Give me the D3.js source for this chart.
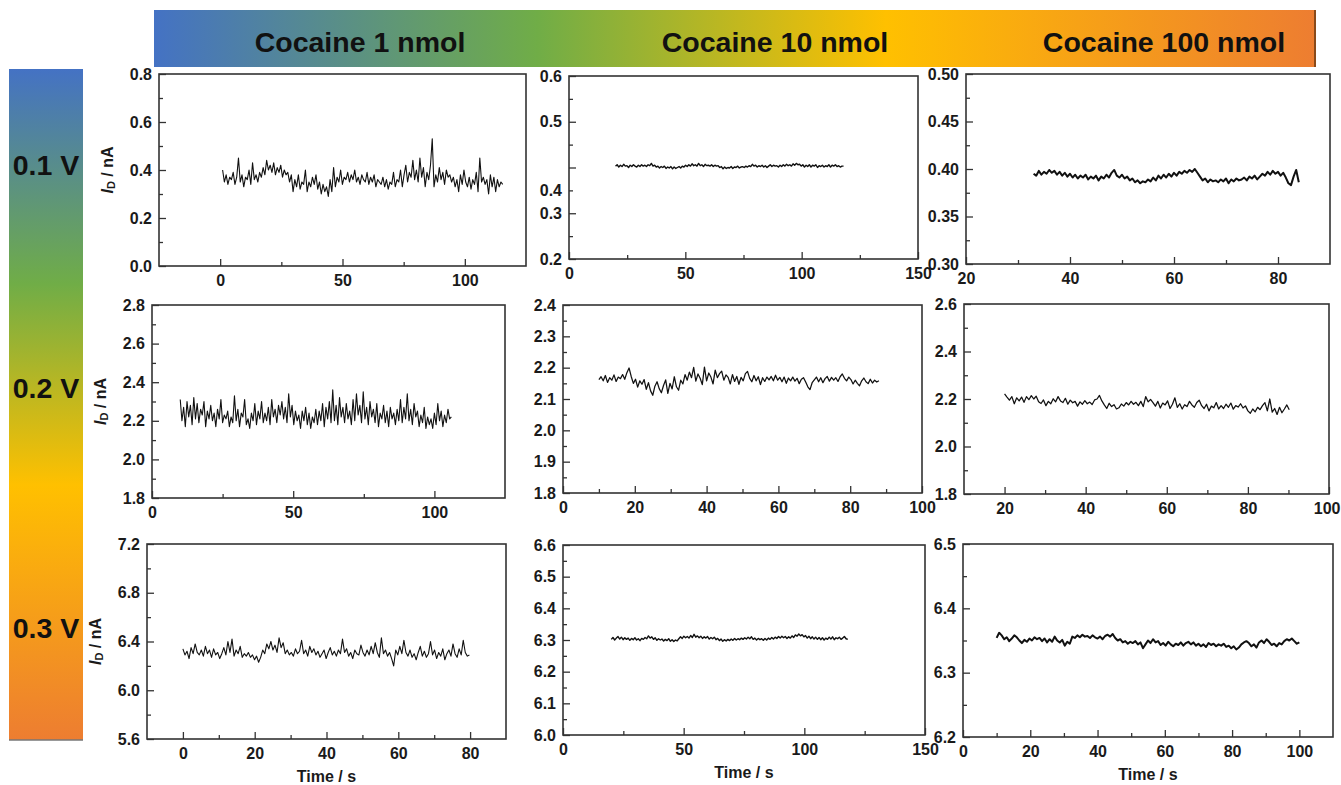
<!DOCTYPE html>
<html>
<head>
<meta charset="utf-8">
<script src="https://cdn.jsdelivr.net/npm/d3@7"></script>
<style>
  html, body { margin: 0; padding: 0; background: #fff; }
  svg { display: block; }
</style>
</head>
<body>
<script>
// ---------------- DATA ----------------
const columnTitles = ["Cocaine 1 nmol", "Cocaine 10 nmol", "Cocaine 100 nmol"];
const rowLabels = ["0.1 V", "0.2 V", "0.3 V"];

// time of first sample and sampling step (s) for each panel
const seriesStart = [1, 20, 33, 10, 10, 20, 0, 20, 10];
const seriesStep  = [0.72, 0.7, 0.5, 0.6, 0.6, 0.6, 0.57, 0.7, 0.75];

// current I_D (nA)
const p1Values = [
0.40,0.35,0.38,0.34,0.37,0.36,0.39,0.34,0.37,0.45,
0.35,0.38,0.33,0.37,0.36,0.40,0.34,0.43,0.36,0.38,
0.35,0.39,0.37,0.41,0.38,0.44,0.40,0.42,0.39,0.43,
0.38,0.41,0.39,0.42,0.37,0.40,0.38,0.39,0.35,0.38,
0.31,0.36,0.33,0.38,0.32,0.35,0.34,0.40,0.31,0.35,
0.33,0.37,0.34,0.38,0.32,0.35,0.30,0.34,0.31,0.33,
0.29,0.36,0.31,0.41,0.33,0.37,0.35,0.40,0.34,0.37,
0.36,0.39,0.35,0.38,0.36,0.40,0.35,0.37,0.34,0.38,
0.36,0.35,0.39,0.34,0.37,0.35,0.38,0.33,0.36,0.35,
0.34,0.37,0.33,0.36,0.32,0.35,0.34,0.39,0.33,0.36,
0.35,0.40,0.33,0.38,0.42,0.35,0.39,0.37,0.44,0.36,
0.40,0.35,0.45,0.37,0.41,0.33,0.39,0.36,0.42,0.53,
0.33,0.38,0.35,0.41,0.36,0.39,0.34,0.40,0.37,0.38,
0.35,0.37,0.33,0.36,0.31,0.38,0.34,0.40,0.35,0.33,
0.37,0.32,0.36,0.34,0.39,0.31,0.45,0.35,0.37,0.34,
0.36,0.30,0.38,0.33,0.37,0.31,0.36,0.33,0.35,0.34];

const p2Values = [
0.403,0.406,0.401,0.405,0.402,0.407,0.403,0.404,0.400,0.405,
0.402,0.406,0.403,0.401,0.405,0.402,0.406,0.403,0.405,0.402,
0.406,0.404,0.409,0.403,0.405,0.401,0.403,0.399,0.402,0.400,
0.403,0.398,0.401,0.399,0.402,0.397,0.401,0.398,0.400,0.402,
0.399,0.403,0.401,0.405,0.402,0.406,0.403,0.408,0.404,0.406,
0.403,0.409,0.404,0.406,0.402,0.407,0.404,0.405,0.403,0.406,
0.402,0.405,0.403,0.404,0.400,0.402,0.397,0.401,0.398,0.400,
0.399,0.402,0.398,0.401,0.400,0.403,0.399,0.401,0.402,0.400,
0.403,0.401,0.404,0.402,0.407,0.403,0.405,0.401,0.404,0.402,
0.405,0.401,0.404,0.400,0.403,0.406,0.402,0.405,0.403,0.404,
0.401,0.405,0.402,0.406,0.403,0.407,0.404,0.406,0.403,0.408,
0.405,0.409,0.406,0.407,0.403,0.406,0.401,0.405,0.402,0.406,
0.401,0.405,0.403,0.406,0.400,0.404,0.402,0.405,0.401,0.404,
0.402,0.406,0.401,0.405,0.403,0.406,0.402,0.404,0.401,0.403,
0.403];

const p3Values = [
0.395,0.393,0.398,0.394,0.397,0.395,0.399,0.396,0.398,0.394,
0.397,0.393,0.396,0.392,0.395,0.391,0.394,0.390,0.393,0.391,
0.394,0.389,0.392,0.390,0.393,0.388,0.392,0.390,0.394,0.391,
0.396,0.399,0.393,0.391,0.394,0.390,0.392,0.388,0.390,0.386,
0.388,0.385,0.387,0.386,0.389,0.387,0.391,0.388,0.393,0.390,
0.394,0.391,0.395,0.392,0.396,0.393,0.397,0.395,0.398,0.396,
0.399,0.397,0.400,0.396,0.392,0.388,0.390,0.386,0.389,0.387,
0.388,0.386,0.389,0.387,0.390,0.385,0.389,0.387,0.390,0.388,
0.389,0.391,0.388,0.392,0.390,0.393,0.389,0.392,0.395,0.393,
0.397,0.394,0.398,0.395,0.397,0.393,0.396,0.391,0.385,0.383,
0.392,0.399,0.386];

const p4Values = [
2.31,2.20,2.27,2.17,2.30,2.22,2.28,2.18,2.32,2.21,
2.29,2.19,2.26,2.23,2.30,2.17,2.25,2.21,2.28,2.20,
2.24,2.17,2.26,2.21,2.31,2.19,2.23,2.21,2.25,2.17,
2.22,2.19,2.33,2.20,2.26,2.17,2.24,2.22,2.31,2.18,
2.21,2.16,2.24,2.20,2.29,2.18,2.25,2.21,2.30,2.19,
2.24,2.20,2.27,2.18,2.31,2.22,2.26,2.19,2.28,2.23,
2.30,2.21,2.27,2.19,2.34,2.22,2.28,2.18,2.25,2.20,
2.23,2.16,2.25,2.20,2.27,2.18,2.24,2.16,2.22,2.19,
2.26,2.18,2.25,2.20,2.29,2.17,2.27,2.21,2.30,2.19,
2.36,2.20,2.28,2.18,2.32,2.22,2.27,2.19,2.29,2.21,
2.25,2.18,2.31,2.20,2.34,2.23,2.28,2.19,2.35,2.21,
2.27,2.18,2.30,2.22,2.26,2.19,2.29,2.17,2.24,2.21,
2.28,2.19,2.25,2.17,2.27,2.21,2.24,2.18,2.26,2.20,
2.31,2.19,2.27,2.21,2.34,2.20,2.26,2.18,2.29,2.22,
2.25,2.17,2.23,2.19,2.27,2.16,2.22,2.18,2.21,2.16,
2.24,2.18,2.29,2.20,2.25,2.17,2.23,2.19,2.26,2.21,
2.22];

const p5Values = [
2.162,2.171,2.158,2.175,2.153,2.168,2.160,2.177,2.156,2.170,
2.165,2.178,2.163,2.184,2.199,2.172,2.150,2.163,2.138,2.158,
2.147,2.162,2.131,2.152,2.126,2.112,2.141,2.155,2.133,2.120,
2.143,2.161,2.118,2.150,2.132,2.171,2.139,2.128,2.160,2.148,
2.178,2.160,2.186,2.168,2.201,2.157,2.180,2.166,2.146,2.202,
2.158,2.183,2.170,2.148,2.192,2.168,2.181,2.189,2.160,2.177,
2.169,2.148,2.178,2.156,2.172,2.147,2.169,2.158,2.181,2.188,
2.166,2.155,2.175,2.158,2.171,2.146,2.168,2.156,2.170,2.161,
2.172,2.158,2.176,2.160,2.169,2.155,2.170,2.150,2.167,2.158,
2.170,2.157,2.166,2.149,2.163,2.168,2.154,2.139,2.130,2.152,
2.161,2.170,2.155,2.168,2.152,2.165,2.172,2.157,2.169,2.160,
2.168,2.156,2.171,2.180,2.166,2.158,2.170,2.162,2.148,2.160,
2.150,2.142,2.158,2.167,2.155,2.149,2.163,2.151,2.160,2.154,
2.158];

const p6Values = [
2.222,2.208,2.195,2.210,2.180,2.205,2.192,2.208,2.186,2.210,
2.197,2.214,2.200,2.212,2.188,2.181,2.196,2.172,2.190,2.180,
2.201,2.188,2.210,2.192,2.185,2.203,2.178,2.195,2.184,2.190,
2.170,2.188,2.178,2.193,2.180,2.187,2.177,2.196,2.200,2.215,
2.192,2.175,2.160,2.182,2.168,2.176,2.158,2.163,2.179,2.170,
2.185,2.175,2.190,2.178,2.186,2.172,2.190,2.168,2.210,2.188,
2.198,2.185,2.170,2.190,2.162,2.183,2.175,2.192,2.160,2.178,
2.205,2.165,2.180,2.158,2.176,2.168,2.190,2.175,2.165,2.185,
2.195,2.172,2.160,2.178,2.150,2.170,2.163,2.185,2.158,2.172,
2.160,2.178,2.165,2.183,2.157,2.172,2.166,2.180,2.162,2.171,
2.150,2.140,2.158,2.146,2.165,2.155,2.172,2.185,2.150,2.200,
2.145,2.160,2.135,2.165,2.142,2.158,2.175,2.155];

const p7Values = [
6.34,6.29,6.32,6.26,6.35,6.30,6.38,6.31,6.29,6.33,
6.28,6.36,6.30,6.33,6.27,6.34,6.29,6.31,6.26,6.30,
6.35,6.29,6.40,6.31,6.42,6.28,6.33,6.30,6.36,6.27,
6.30,6.28,6.31,6.27,6.29,6.25,6.28,6.23,6.27,6.33,
6.30,6.38,6.34,6.40,6.33,6.37,6.31,6.43,6.35,6.39,
6.30,6.33,6.29,6.31,6.28,6.34,6.30,6.32,6.41,6.30,
6.33,6.28,6.36,6.31,6.34,6.29,6.32,6.27,6.30,6.33,
6.26,6.31,6.35,6.29,6.32,6.28,6.33,6.30,6.42,6.31,
6.34,6.28,6.31,6.26,6.33,6.30,6.29,6.37,6.31,6.28,
6.33,6.29,6.36,6.30,6.39,6.31,6.27,6.43,6.30,6.33,
6.28,6.31,6.26,6.20,6.33,6.29,6.36,6.30,6.41,6.31,
6.28,6.33,6.27,6.30,6.25,6.31,6.36,6.28,6.32,6.27,
6.30,6.40,6.29,6.33,6.26,6.31,6.28,6.34,6.25,6.30,
6.33,6.28,6.38,6.30,6.27,6.34,6.29,6.41,6.31,6.28,
6.29];

const p8Values = [
6.302,6.308,6.300,6.306,6.311,6.303,6.309,6.301,6.307,6.302,
6.306,6.299,6.305,6.301,6.307,6.300,6.304,6.298,6.305,6.302,
6.308,6.304,6.313,6.306,6.310,6.302,6.307,6.299,6.304,6.300,
6.303,6.297,6.302,6.298,6.304,6.296,6.301,6.295,6.300,6.297,
6.304,6.310,6.305,6.312,6.307,6.311,6.306,6.314,6.308,6.318,
6.309,6.313,6.307,6.312,6.305,6.310,6.306,6.311,6.303,6.308,
6.304,6.309,6.301,6.305,6.298,6.303,6.296,6.301,6.297,6.302,
6.298,6.303,6.299,6.305,6.300,6.304,6.301,6.306,6.302,6.307,
6.303,6.309,6.304,6.310,6.302,6.306,6.300,6.305,6.301,6.304,
6.299,6.305,6.300,6.306,6.302,6.308,6.303,6.309,6.305,6.311,
6.306,6.312,6.307,6.311,6.305,6.310,6.306,6.313,6.308,6.316,
6.312,6.319,6.313,6.317,6.310,6.314,6.306,6.312,6.304,6.310,
6.303,6.309,6.302,6.308,6.301,6.307,6.300,6.306,6.302,6.309,
6.303,6.310,6.301,6.307,6.304,6.309,6.302,6.306,6.311,6.304,
6.302];

const p9Values = [
6.354,6.362,6.358,6.352,6.355,6.349,6.353,6.358,6.355,6.350,
6.346,6.351,6.348,6.353,6.350,6.355,6.352,6.354,6.349,6.353,
6.347,6.352,6.348,6.356,6.350,6.347,6.351,6.342,6.348,6.345,
6.356,6.354,6.358,6.355,6.359,6.356,6.357,6.354,6.358,6.355,
6.353,6.356,6.352,6.357,6.359,6.356,6.360,6.354,6.350,6.352,
6.347,6.349,6.345,6.348,6.346,6.349,6.344,6.347,6.338,6.344,
6.350,6.346,6.352,6.347,6.349,6.343,6.346,6.342,6.348,6.344,
6.341,6.345,6.343,6.347,6.342,6.346,6.348,6.344,6.347,6.342,
6.345,6.341,6.344,6.340,6.346,6.343,6.345,6.341,6.344,6.342,
6.345,6.340,6.342,6.338,6.341,6.336,6.339,6.344,6.347,6.349,
6.346,6.341,6.344,6.339,6.347,6.350,6.346,6.352,6.348,6.343,
6.345,6.341,6.346,6.344,6.349,6.352,6.350,6.353,6.349,6.345,
6.347];

const seriesValues = [p1Values, p2Values, p3Values, p4Values, p5Values, p6Values, p7Values, p8Values, p9Values];

// axis ranges
const xDomains = [[-25,125],[0,150],[20,90],[0,125],[0,100],[10,100],[-10,90],[0,150],[0,110]];
const yDomains = [[0,0.8],[0.2,0.6],[0.3,0.5],[1.8,2.8],[1.8,2.4],[1.8,2.6],[5.6,7.2],[6.0,6.6],[6.2,6.5]];

// x ticks
const xMajorTicks = [[0,50,100],[0,50,100,150],[20,40,60,80],[0,50,100],[0,20,40,60,80,100],[20,40,60,80,100],[0,20,40,60,80],[0,50,100,150],[0,20,40,60,80,100]];
const xMinorTicks = [[25,75],[25,75,125],[30,50,70],[25,75],[10,30,50,70,90],[30,50,70,90],[10,30,50,70],[25,75,125],[10,30,50,70,90]];
const xTickLabels = [["0","50","100"],["0","50","100","150"],["20","40","60","80"],["0","50","100"],["0","20","40","60","80","100"],["20","40","60","80","100"],["0","20","40","60","80"],["0","50","100","150"],["0","20","40","60","80","100"]];

// y ticks
const yMajorTicks = [[0,0.2,0.4,0.6,0.8],[0.2,0.3,0.4,0.5,0.6],[0.30,0.35,0.40,0.45,0.50],[1.8,2.0,2.2,2.4,2.6,2.8],[1.8,1.9,2.0,2.1,2.2,2.3,2.4],[1.8,2.0,2.2,2.4,2.6],[5.6,6.0,6.4,6.8,7.2],[6.0,6.1,6.2,6.3,6.4,6.5,6.6],[6.2,6.3,6.4,6.5]];
const yMinorTicks = [[0.1,0.3,0.5,0.7],[0.25,0.35,0.45,0.55],[0.325,0.375,0.425,0.475],[1.9,2.1,2.3,2.5,2.7],[1.85,1.95,2.05,2.15,2.25,2.35],[1.9,2.1,2.3,2.5],[5.8,6.2,6.6,7.0],[6.05,6.15,6.25,6.35,6.45,6.55],[6.25,6.35,6.45]];
const yLabelAt = [[0,0.2,0.4,0.6,0.8],[0.2,0.3,0.35,0.5,0.6],[0.30,0.35,0.40,0.45,0.50],[1.8,2.0,2.2,2.4,2.6,2.8],[1.8,1.9,2.0,2.1,2.2,2.3,2.4],[1.8,2.0,2.2,2.4,2.6],[5.6,6.0,6.4,6.8,7.2],[6.0,6.1,6.2,6.3,6.4,6.5,6.6],[6.2,6.3,6.4,6.5]];
const yTickLabels = [["0.0","0.2","0.4","0.6","0.8"],["0.2","0.3","0.4","0.5","0.6"],["0.30","0.35","0.40","0.45","0.50"],["1.8","2.0","2.2","2.4","2.6","2.8"],["1.8","1.9","2.0","2.1","2.2","2.3","2.4"],["1.8","2.0","2.2","2.4","2.6"],["5.6","6.0","6.4","6.8","7.2"],["6.0","6.1","6.2","6.3","6.4","6.5","6.6"],["6.2","6.3","6.4","6.5"]];

// ---------------- LAYOUT ----------------
const W = 1341, H = 785;
const FONT = "'Liberation Sans', Arial, Helvetica, sans-serif";
const frames = [
  {x0:159, x1:526, y0:74,  y1:266},
  {x0:569, x1:918, y0:76,  y1:259},
  {x0:966, x1:1330,y0:74,  y1:264},
  {x0:152, x1:505, y0:305, y1:498},
  {x0:563, x1:922, y0:305, y1:493},
  {x0:964, x1:1329,y0:304, y1:494},
  {x0:147, x1:506, y0:544, y1:739},
  {x0:563, x1:925, y0:545, y1:735},
  {x0:963, x1:1333,y0:544, y1:737}
];
const lineWidths = [1.1, 1.4, 2.0, 1.1, 1.25, 1.25, 1.1, 1.4, 2.0];

const svg = d3.select("body").append("svg")
  .attr("width", W).attr("height", H)
  .attr("viewBox", `0 0 ${W} ${H}`);
svg.append("rect").attr("width", W).attr("height", H).attr("fill", "#fff");

const defs = svg.append("defs");
const gTop = defs.append("linearGradient").attr("id","gTop").attr("x1","0").attr("x2","1").attr("y1","0").attr("y2","0");
[["#4472C4",0],["#70AD47",0.33],["#FFC000",0.63],["#ED7D31",1]].forEach(s => gTop.append("stop").attr("offset", s[1]).attr("stop-color", s[0]));
const gLeft = defs.append("linearGradient").attr("id","gLeft").attr("x1","0").attr("x2","0").attr("y1","0").attr("y2","1");
[["#4472C4",0],["#70AD47",0.32],["#FFC000",0.62],["#ED7D31",1]].forEach(s => gLeft.append("stop").attr("offset", s[1]).attr("stop-color", s[0]));

// top banner
svg.append("rect").attr("x",154).attr("y",10).attr("width",1162).attr("height",57).attr("fill","url(#gTop)");
svg.append("line").attr("x1",1315).attr("x2",1315).attr("y1",10).attr("y2",67).attr("stroke","#8a4a1a").attr("stroke-width",2);
const titleX = [360, 775, 1164];
svg.selectAll("text.coltitle").data(columnTitles).join("text")
  .attr("class","coltitle")
  .attr("x",(d,i)=>titleX[i]).attr("y",42)
  .attr("text-anchor","middle").attr("dominant-baseline","central")
  .attr("font-family",FONT).attr("font-weight","bold").attr("font-size",28.5)
  .attr("fill","#111").text(d=>d);

// left banner
svg.append("rect").attr("x",9).attr("y",69).attr("width",74).attr("height",671).attr("fill","url(#gLeft)");
svg.append("line").attr("x1",9).attr("x2",83).attr("y1",740).attr("y2",740).attr("stroke","#777").attr("stroke-width",1.5);
const rowY = [165, 388, 628];
svg.selectAll("text.rowlabel").data(rowLabels).join("text")
  .attr("class","rowlabel")
  .attr("x",46).attr("y",(d,i)=>rowY[i])
  .attr("text-anchor","middle").attr("dominant-baseline","central")
  .attr("font-family",FONT).attr("font-weight","bold").attr("font-size",28.5)
  .attr("fill","#111").text(d=>d);

// panels
function styleAxis(g) {
  g.select(".domain").remove();
  g.selectAll(".tick line").attr("stroke","#333").attr("stroke-width",1.3);
  g.attr("font-family",FONT).attr("font-size",16).attr("font-weight","bold");
  g.selectAll(".tick text").attr("fill","#1a1a1a");
}

frames.forEach((f, i) => {
  const x = d3.scaleLinear().domain(xDomains[i]).range([f.x0, f.x1]);
  const y = d3.scaleLinear().domain(yDomains[i]).range([f.y1, f.y0]);
  const g = svg.append("g");

  const pts = seriesValues[i].map((v,k) => ({t: seriesStart[i] + k*seriesStep[i], v}));
  g.append("path").datum(pts)
    .attr("fill","none").attr("stroke","#111").attr("stroke-width",lineWidths[i])
    .attr("stroke-linejoin","round")
    .attr("d", d3.line().x(d=>x(d.t)).y(d=>y(d.v)));

  // x axis ticks
  g.append("g").attr("transform",`translate(0,${f.y1})`)
    .call(d3.axisBottom(x).tickValues(xMajorTicks[i]).tickSize(-7).tickFormat(""))
    .call(styleAxis);
  g.append("g").attr("transform",`translate(0,${f.y1})`)
    .call(d3.axisBottom(x).tickValues(xMinorTicks[i]).tickSize(-4).tickFormat(""))
    .call(styleAxis);
  const xl = g.append("g").attr("transform",`translate(0,${f.y1})`)
    .call(d3.axisBottom(x).tickValues(xMajorTicks[i]).tickSize(0).tickPadding(9)
      .tickFormat((d,k)=>xTickLabels[i][k]))
    .call(styleAxis);
  // keep labels inside the picture
  xl.selectAll(".tick text").each(function(d) {
    const half = this.getComputedTextLength()/2;
    const over = x(d) + half - (W - 1);
    if (over > 0) d3.select(this).attr("x", -over);
  });

  // y axis ticks
  g.append("g").attr("transform",`translate(${f.x0},0)`)
    .call(d3.axisLeft(y).tickValues(yMajorTicks[i]).tickSize(-7).tickFormat(""))
    .call(styleAxis);
  g.append("g").attr("transform",`translate(${f.x0},0)`)
    .call(d3.axisLeft(y).tickValues(yMinorTicks[i]).tickSize(-4).tickFormat(""))
    .call(styleAxis);
  g.append("g").attr("transform",`translate(${f.x0},0)`)
    .call(d3.axisLeft(y).tickValues(yLabelAt[i]).tickSize(0).tickPadding(7)
      .tickFormat((d,k)=>yTickLabels[i][k]))
    .call(styleAxis);

  // frame
  g.append("rect").attr("x",f.x0).attr("y",f.y0)
    .attr("width",f.x1-f.x0).attr("height",f.y1-f.y0)
    .attr("fill","none").attr("stroke","#333").attr("stroke-width",1.6);

  // y title (first column)
  if (i % 3 === 0) {
    const cy = (f.y0+f.y1)/2, cx = f.x0 - 52;
    const t = g.append("text")
      .attr("transform",`translate(${cx},${cy}) rotate(-90)`)
      .attr("text-anchor","middle").attr("dominant-baseline","central")
      .attr("font-family",FONT).attr("font-weight","bold").attr("font-size",16).attr("fill","#1a1a1a");
    t.append("tspan").attr("font-style","italic").text("I");
    t.append("tspan").attr("font-size",11).attr("dy",4).text("D");
    t.append("tspan").attr("dy",-4).text(" / nA");
  }
  // x title (last row)
  if (i >= 6) {
    g.append("text")
      .attr("x",(f.x0+f.x1)/2).attr("y",f.y1+37)
      .attr("text-anchor","middle").attr("dominant-baseline","central")
      .attr("font-family",FONT).attr("font-weight","bold").attr("font-size",16).attr("fill","#1a1a1a")
      .text("Time / s");
  }
});
</script>
</body>
</html>
